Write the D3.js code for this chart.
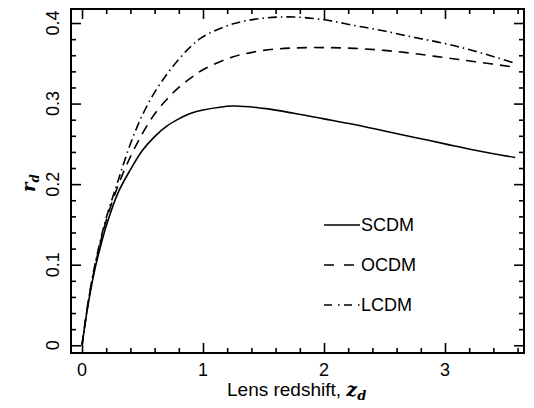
<!DOCTYPE html>
<html>
<head>
<meta charset="utf-8">
<script src="https://cdn.jsdelivr.net/npm/d3@7"></script>
<style>
  body { margin: 0; background: #fff; }
  text { font-family: "Liberation Sans", Arial, Helvetica, sans-serif; fill: #000; }
</style>
</head>
<body>
<div id="chart"></div>
<script>
// lens redshift grid and r_d for the three cosmologies
var zGrid = [0, 0.05, 0.1, 0.15, 0.2, 0.3, 0.4, 0.5, 0.6, 0.7, 0.8, 0.9, 1.0, 1.25, 1.5, 1.75, 2.0, 2.25, 2.5, 2.75, 3.0, 3.25, 3.58];
var scdm = [0, 0.05, 0.09, 0.121, 0.148, 0.19, 0.218, 0.242, 0.259, 0.272, 0.281, 0.288, 0.292, 0.297, 0.294, 0.288, 0.281, 0.274, 0.266, 0.258, 0.250, 0.242, 0.233];
var ocdm = [0, 0.052, 0.093, 0.126, 0.155, 0.199, 0.234, 0.263, 0.287, 0.305, 0.320, 0.332, 0.342, 0.358, 0.366, 0.369, 0.3695, 0.3685, 0.366, 0.362, 0.357, 0.352, 0.345];
var lcdm = [0, 0.053, 0.095, 0.129, 0.158, 0.205, 0.25, 0.286, 0.314, 0.336, 0.355, 0.371, 0.383, 0.399, 0.406, 0.4075, 0.404, 0.397, 0.390, 0.382, 0.3745, 0.365, 0.35];
var seriesNames = ["SCDM", "OCDM", "LCDM"];
var xTicks = [0, 1, 2, 3];
var yTicks = [0, 0.1, 0.2, 0.3, 0.4];

var width = 534, height = 408;
var margin = {top: 9, right: 10, bottom: 55, left: 71};
var w = width - margin.left - margin.right,
    h = height - margin.top - margin.bottom;

var svg = d3.select("#chart").append("svg")
    .attr("width", width)
    .attr("height", height);

var g = svg.append("g")
    .attr("transform", "translate(" + margin.left + "," + margin.top + ")");

var x = d3.scaleLinear().domain([-0.091, 3.653]).range([0, w]);
var y = d3.scaleLinear().domain([-0.0096, 0.4174]).range([h, 0]);

var xMinor = d3.range(0, 3.61, 0.2).filter(function (v) { return Math.abs(v - Math.round(v)) > 1e-6; });
var yMinor = d3.range(0, 0.4101, 0.02).filter(function (v) { return Math.abs(v * 10 - Math.round(v * 10)) > 1e-6; });

function tickAxis(axisFn, scale, vals, size) {
  return axisFn(scale).tickValues(vals).tickSize(size).tickFormat("");
}

// ticks pointing inward on all four sides
g.append("g").attr("transform", "translate(0," + h + ")").call(tickAxis(d3.axisTop, x, xTicks, 10));
g.append("g").attr("transform", "translate(0," + h + ")").call(tickAxis(d3.axisTop, x, xMinor, 5));
g.append("g").call(tickAxis(d3.axisBottom, x, xTicks, 10));
g.append("g").call(tickAxis(d3.axisBottom, x, xMinor, 5));
g.append("g").call(tickAxis(d3.axisRight, y, yTicks, 10));
g.append("g").call(tickAxis(d3.axisRight, y, yMinor, 5));
g.append("g").attr("transform", "translate(" + w + ",0)").call(tickAxis(d3.axisLeft, y, yTicks, 10));
g.append("g").attr("transform", "translate(" + w + ",0)").call(tickAxis(d3.axisLeft, y, yMinor, 5));

g.selectAll(".domain").remove();
g.selectAll(".tick line").attr("stroke", "#000").attr("stroke-width", 1.6);

g.append("rect")
    .attr("width", w)
    .attr("height", h)
    .attr("fill", "none")
    .attr("stroke", "#000")
    .attr("stroke-width", 2);

// tick labels
g.selectAll(".xlab").data(xTicks).enter().append("text")
    .attr("x", function (d) { return x(d); })
    .attr("y", h + 23)
    .attr("text-anchor", "middle")
    .style("font-size", "18px")
    .text(function (d) { return d; });

g.selectAll(".ylab").data(yTicks).enter().append("text")
    .attr("transform", function (d) { return "translate(-12," + y(d) + ") rotate(-90)"; })
    .attr("text-anchor", "middle")
    .style("font-size", "18px")
    .text(function (d) { return d === 0 ? "0" : d3.format(".1f")(d); });

// axis titles
var xt = svg.append("text")
    .attr("x", 227)
    .attr("y", 396)
    .style("font-size", "19px");
xt.append("tspan").text("Lens redshift, ");
xt.append("tspan").style("font-family", "'DejaVu Serif', serif").style("font-style", "italic").style("font-weight", "bold").text("z");
xt.append("tspan").attr("dy", 4).style("font-size", "13px").style("font-family", "'DejaVu Serif', serif").style("font-style", "italic").style("font-weight", "bold").text("d");

var yt = svg.append("text")
    .attr("transform", "translate(35,192) rotate(-90)")
    .style("font-size", "18px");
yt.append("tspan").style("font-family", "'DejaVu Serif', serif").style("font-style", "italic").style("font-weight", "bold").text("r");
yt.append("tspan").attr("dy", 4).style("font-size", "12px").style("font-family", "'DejaVu Serif', serif").style("font-style", "italic").style("font-weight", "bold").text("d");

// curves
var dashes = ["none", "10,7", "9,4,1.5,4"];
var legDashes = ["none", "10,10", "8,6,1.5,4.5"];
var data = [scdm, ocdm, lcdm].map(function (vals) {
  return zGrid.map(function (z, i) { return {z: z, r: vals[i]}; });
});

var line = d3.line()
    .x(function (d) { return x(d.z); })
    .y(function (d) { return y(d.r); })
    .curve(d3.curveCatmullRom.alpha(0.5));

g.selectAll(".curve").data(data).enter().append("path")
    .attr("class", "curve")
    .attr("d", line)
    .attr("fill", "none")
    .attr("stroke", "#000")
    .attr("stroke-width", 1.6)
    .attr("stroke-dasharray", function (d, i) { return dashes[i]; });

// legend
var legend = g.selectAll(".leg").data(seriesNames).enter().append("g")
    .attr("transform", function (d, i) { return "translate(" + (324 - margin.left) + "," + (225 + 40 * i - margin.top) + ")"; });
legend.append("line")
    .attr("x1", 0).attr("x2", 36)
    .attr("stroke", "#000")
    .attr("stroke-width", 1.6)
    .attr("stroke-dasharray", function (d, i) { return legDashes[i]; });
legend.append("text")
    .attr("x", 37)
    .attr("dy", "0.36em")
    .style("font-size", "18px")
    .text(function (d) { return d; });
</script>
</body>
</html>
